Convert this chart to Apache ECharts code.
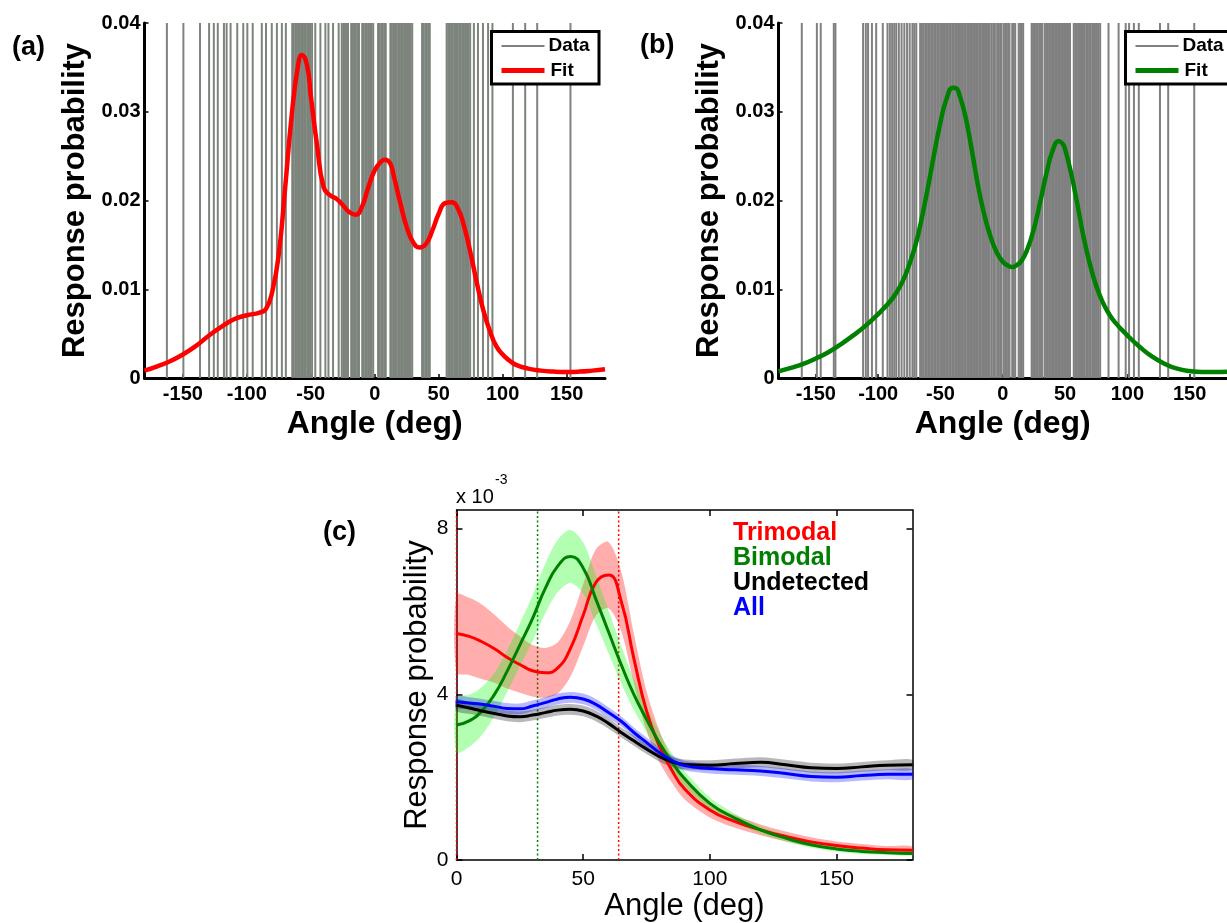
<!DOCTYPE html>
<html>
<head>
<meta charset="utf-8">
<title>Response probability</title>
<script src="https://cdn.jsdelivr.net/npm/echarts@6.0.0/dist/echarts.min.js"></script>
<style>
  html, body { margin: 0; padding: 0; background: #fff; }
  #chart { width: 1227px; height: 923px; }
</style>
</head>
<body>
<div id="chart"></div>
<script>
// panel (a): single responses (deg) and trimodal fit
const dataA = [-162.5, -149.6, -136.6, -129.5, -125.8, -122.7, -117.9, -115.8, -112.7, -107.5, -102.8, -99.6, -95.4,
  -88.3, -85.0, -80.5, -76.5, -72.6, -69.5,
  -64.5, -63.4, -62.1, -61.0, -59.9, -58.6, -57.5, -56.3, -55.2, -54.1, -52.8, -51.7, -50.6,
  -49.0, -46.5, -42.5, -38.6, -36.2, -32.6,
  -28.2, -25.8, -24.6, -23.3, -22.1, -20.9, -18.4, -17.2, -16.1, -14.8, -13.5, -12.3, -9.8, -8.7, -7.4, -6.2, -5.0, -3.7, -2.5, -1.2,
  2.6, 3.8, 5.1, 6.2, 7.4, 8.6, 12.2, 13.4, 14.7, 15.8, 17.0, 18.3, 19.5, 20.6, 21.9, 23.1, 24.4, 25.6, 26.8, 28.0, 29.3,
  37.0, 38.2, 39.5, 40.6, 41.8, 43.0,
  56.2, 57.4, 58.7, 59.8, 61.0, 62.3, 63.5, 64.7, 66.0, 67.2, 68.4, 69.7, 70.9, 72.1, 73.3, 74.6,
  77.5, 80.7, 84.6, 88.6, 92.0, 108.0, 117.6, 127.0, 153.0]
const angleA = [-180, -170, -160, -150, -140, -130, -120, -110, -100, -90, -85, -80, -75, -70, -65, -60, -57, -53, -50,
  -45, -40, -35, -30, -25, -20, -15, -10, -5, 0, 5, 8, 12, 15, 20, 25, 30, 35, 40, 45, 50, 55, 60, 65, 70, 75,
  80, 85, 90, 95, 100, 105, 110, 120, 130, 140, 150, 160, 170, 180]
const fitA = [0.00083, 0.00132, 0.00189, 0.00265, 0.00359, 0.00473, 0.00575, 0.00662, 0.00707, 0.00737, 0.0078, 0.0098, 0.0140,
  0.0215, 0.0295, 0.0352, 0.0364, 0.0353, 0.0318, 0.0261, 0.0215, 0.0206, 0.0202, 0.0195, 0.0187, 0.0184, 0.0193,
  0.0215, 0.0234, 0.0244, 0.0246, 0.0242, 0.0227, 0.0197, 0.0170, 0.0153, 0.0147, 0.0151, 0.0166, 0.0185, 0.0197,
  0.0198, 0.0191, 0.0170, 0.0140, 0.0106, 0.00756, 0.00529, 0.00359, 0.00265, 0.0020, 0.00151, 0.00106, 0.00083,
  0.00072, 0.00068, 0.00072, 0.00083, 0.00098]

// panel (b): single responses (deg) and bimodal fit
const dataB = [-161.3, -149.2, -146.1, -135.6, -134.3, -112.1, -109.9, -108.1, -105.0, -101.6, -96.3,
  -92.5, -90.6, -88.8, -87.1, -85.5, -83.4, -81.2, -79.0, -76.8, -74.7, -72.5, -71.0, -69.4, -66.3, -64.9, -63.6, -62.2, -61.0,
  -59.7, -58.6, -57.3, -56.2, -54.9, -53.8, -52.5, -51.4, -50.1, -48.9, -47.8, -46.5, -45.3, -44.2, -42.9, -41.8, -40.5,
  -39.4, -38.1, -36.9, -35.8, -34.5, -33.4, -32.1, -30.9, -29.8, -28.5, -27.3, -26.2, -24.9, -23.8, -22.5, -21.4, -20.1,
  -18.9, -17.8, -16.5, -15.3, -14.2, -12.9, -11.8, -10.5, -9.0, -7.6, -6.3,
  -4.5, -3.2, -2.0, -1.0, 0.8, 2.0, 3.2, 4.4, 5.4, 7.6, 8.8, 10.0, 12.8, 14.0, 15.2, 16.4,
  23.2, 24.4, 25.6, 26.8, 28.0, 29.3, 30.5, 31.6,
  33.6, 34.8, 36.0, 37.2, 38.4, 39.6, 40.8, 42.0, 43.2, 44.4, 45.6, 46.8, 48.0, 49.2, 50.4, 51.6, 52.8, 54.0,
  57.0, 58.2, 59.4, 60.6, 62.0, 63.2, 64.4, 65.6, 67.0, 68.2, 69.4, 70.6, 72.0, 73.2, 74.4, 75.6, 76.8, 78.2,
  84.9, 93.0, 98.7, 101.4, 105.3, 109.2, 126.2, 132.8, 153.7]
const angleB = [-180, -170, -160, -150, -140, -130, -120, -110, -100, -90, -85, -80, -75, -70, -65, -60, -55, -50, -45,
  -40, -37, -35, -30, -25, -20, -15, -10, -5, 0, 5, 8, 10, 15, 20, 25, 30, 35, 40, 45, 48, 50, 55, 60, 65, 70, 75,
  80, 85, 90, 100, 110, 120, 130, 140, 150, 160, 170, 180]
const fitB = [0.00075, 0.00115, 0.0016, 0.0022, 0.0029, 0.0038, 0.0048, 0.0059, 0.0072, 0.0087, 0.0097, 0.0110, 0.0128,
  0.0150, 0.0180, 0.0215, 0.0253, 0.0288, 0.0315, 0.0327, 0.0326, 0.0320, 0.0295, 0.0258, 0.0218, 0.0185, 0.0160,
  0.0142, 0.0131, 0.0126, 0.0125, 0.0126, 0.0132, 0.0146, 0.0168, 0.0198, 0.0230, 0.0256, 0.0267, 0.0264, 0.0258,
  0.0230, 0.0195, 0.0158, 0.0128, 0.0104, 0.0086, 0.0073, 0.0063, 0.0048, 0.0035, 0.0024, 0.0016, 0.00105, 0.00078,
  0.00068, 0.00068, 0.00071]

// panel (c): mean response probability (x 10^-3) and band half-widths
const angleC = [0, 5, 10, 15, 20, 25, 30, 35, 40, 45, 50, 55, 60, 65, 70, 75, 80, 85, 90, 100, 110, 120, 130, 140, 150, 160, 170, 180]
const trimodal = [5.47, 5.40, 5.27, 5.10, 4.89, 4.72, 4.57, 4.52, 4.64, 5.11, 5.91, 6.70, 6.88, 6.25, 4.87, 3.60, 2.76, 2.17,
  1.72, 1.21, 0.93, 0.73, 0.57, 0.44, 0.35, 0.29, 0.25, 0.24]
const trimodalErr = [0.94, 0.93, 0.90, 0.82, 0.75, 0.68, 0.62, 0.60, 0.62, 0.68, 0.75, 0.80, 0.80, 0.72, 0.60, 0.48, 0.38, 0.30,
  0.25, 0.18, 0.15, 0.13, 0.12, 0.11, 0.10, 0.10, 0.09, 0.09]
const bimodal = [3.26, 3.36, 3.60, 4.00, 4.56, 5.19, 5.83, 6.55, 7.10, 7.33, 7.05, 6.30, 5.51, 4.72, 4.00, 3.40, 2.84, 2.37,
  1.97, 1.37, 1.01, 0.73, 0.53, 0.37, 0.27, 0.21, 0.18, 0.16]
const bimodalErr = [0.66, 0.63, 0.58, 0.52, 0.50, 0.52, 0.55, 0.60, 0.63, 0.64, 0.62, 0.58, 0.52, 0.45, 0.38, 0.30, 0.25, 0.20,
  0.18, 0.14, 0.11, 0.09, 0.08, 0.07, 0.06, 0.06, 0.05, 0.05]
const undetected = [3.74, 3.67, 3.60, 3.54, 3.48, 3.46, 3.50, 3.56, 3.62, 3.64, 3.60, 3.48, 3.30, 3.08, 2.88, 2.68, 2.50, 2.37,
  2.31, 2.29, 2.33, 2.36, 2.30, 2.23, 2.21, 2.25, 2.29, 2.30]
const undetectedErr = [0.14, 0.14, 0.13, 0.13, 0.13, 0.13, 0.13, 0.13, 0.13, 0.13, 0.13, 0.13, 0.13, 0.12, 0.12, 0.12, 0.12, 0.12,
  0.12, 0.12, 0.12, 0.12, 0.12, 0.12, 0.12, 0.12, 0.12, 0.12]
const all = [3.82, 3.79, 3.76, 3.71, 3.66, 3.65, 3.72, 3.80, 3.89, 3.93, 3.89, 3.76, 3.56, 3.35, 3.08, 2.84, 2.60, 2.41,
  2.28, 2.21, 2.18, 2.15, 2.09, 2.02, 2.00, 2.04, 2.07, 2.07]
const allErr = [0.14, 0.14, 0.13, 0.13, 0.13, 0.13, 0.13, 0.13, 0.13, 0.13, 0.13, 0.13, 0.13, 0.12, 0.12, 0.12, 0.12, 0.12,
  0.12, 0.12, 0.12, 0.12, 0.12, 0.12, 0.12, 0.12, 0.12, 0.12]
// mean preferred angles (dotted markers)
const trimodalMarks = [0, 64]
const bimodalMarks = [32]

const ticksAB = [-150, -100, -50, 0, 50, 100, 150]
const ticksCx = [0, 50, 100, 150]
const ticksCy = [0, 4, 8]

const FONT = '"Liberation Sans", Arial, Helvetica, sans-serif'

function pairs (xs, ys) {
  return xs.map((x, i) => [x, ys[i]])
}

// vertical line from the bottom of the axis to yTop, one per datum
function vlines (yTop, color, width, dash) {
  return function (params, api) {
    const x = api.value(0)
    const p1 = api.coord([x, 0])
    const p2 = api.coord([x, yTop])
    return {
      type: 'line',
      shape: { x1: p1[0], y1: p1[1], x2: p2[0], y2: p2[1] },
      style: { stroke: color, lineWidth: width, lineDash: dash || null }
    }
  }
}

// one closed polygon between the lower and upper edge of the band
function bandRender (color) {
  return function (params, api) {
    if (params.dataIndexInside !== 0) return
    const up = []
    const lo = []
    for (let i = 0; i < params.dataInsideLength; i++) {
      up.push(api.coord([api.value(0, i), api.value(2, i)]))
      lo.push(api.coord([api.value(0, i), api.value(1, i)]))
    }
    return {
      type: 'polygon',
      shape: { points: up.concat(lo.reverse()), smooth: 0.3 },
      style: { fill: color }
    }
  }
}

function band (name, center, err, color) {
  return {
    name: name + ' band',
    type: 'custom',
    xAxisIndex: 2,
    yAxisIndex: 2,
    z: 2,
    encode: { x: 0, y: [1, 2] },
    renderItem: bandRender(color),
    data: angleC.map((x, i) => [x, center[i] - err[i], center[i] + err[i]])
  }
}

function meanLine (name, center, color) {
  return {
    name: name,
    type: 'line',
    xAxisIndex: 2,
    yAxisIndex: 2,
    smooth: true,
    symbol: 'none',
    lineStyle: { color: color, width: 3 },
    z: 3,
    data: pairs(angleC, center)
  }
}

function abX (gridNo) {
  return {
    gridIndex: gridNo,
    type: 'value',
    min: -180,
    max: 180,
    name: 'Angle (deg)',
    nameLocation: 'middle',
    nameGap: 30,
    nameTextStyle: { fontFamily: FONT, fontSize: 32, fontWeight: 'bold', color: '#000' },
    axisLine: { onZero: false, lineStyle: { color: '#000', width: 3 } },
    axisTick: { inside: true, length: 4, customValues: ticksAB, lineStyle: { color: '#000', width: 1.5 } },
    axisLabel: { customValues: ticksAB, margin: 6, fontFamily: FONT, fontSize: 20, fontWeight: 'bold', color: '#000' },
    splitLine: { show: false }
  }
}

function abY (gridNo) {
  return {
    gridIndex: gridNo,
    type: 'value',
    min: 0,
    max: 0.04,
    interval: 0.01,
    name: 'Response probability',
    nameLocation: 'middle',
    nameGap: 54,
    nameTextStyle: { fontFamily: FONT, fontSize: 31, fontWeight: 'bold', color: '#000' },
    axisLine: { onZero: false, lineStyle: { color: '#000', width: 3 } },
    axisTick: { inside: true, length: 4, lineStyle: { color: '#000', width: 1.5 } },
    axisLabel: { margin: 4, fontFamily: FONT, fontSize: 20, fontWeight: 'bold', color: '#000' },
    splitLine: { show: false }
  }
}

function legendBox (left, fitColor) {
  return [
    { type: 'rect', z: 100, shape: { x: left, y: 31.5, width: 107.5, height: 52.5 },
      style: { fill: '#fff', stroke: '#000', lineWidth: 3 } },
    { type: 'line', z: 101, shape: { x1: left + 10, y1: 46, x2: left + 53, y2: 46 },
      style: { stroke: '#000', lineWidth: 1.2 } },
    { type: 'line', z: 101, shape: { x1: left + 10, y1: 70.5, x2: left + 53, y2: 70.5 },
      style: { stroke: fitColor, lineWidth: 5 } },
    { type: 'text', z: 101, x: left + 57, y: 46,
      style: { text: 'Data', fill: '#000', font: 'bold 19px ' + FONT, textVerticalAlign: 'middle' } },
    { type: 'text', z: 101, x: left + 59, y: 70.5,
      style: { text: 'Fit', fill: '#000', font: 'bold 19px ' + FONT, textVerticalAlign: 'middle' } }
  ]
}

function label (text, x, y, font, color) {
  return { type: 'text', z: 100, x: x, y: y,
    style: { text: text, fill: color || '#000', font: font, textVerticalAlign: 'middle' } }
}

const chart = echarts.init(document.getElementById('chart'), null, { renderer: 'canvas' })
chart.setOption({
  animation: false,
  backgroundColor: '#fff',
  grid: [
    { left: 144.5, top: 23, width: 460.5, height: 355 },
    { left: 778.5, top: 23, width: 460.5, height: 355 },
    { left: 456.5, top: 510, width: 456, height: 354 }
  ],
  xAxis: [
    abX(0),
    abX(1),
    {
      gridIndex: 2,
      type: 'value',
      min: 0,
      max: 180,
      name: 'Angle (deg)',
      nameLocation: 'middle',
      nameGap: 30,
      nameTextStyle: { fontFamily: FONT, fontSize: 31, color: '#000' },
      axisLine: { onZero: false, lineStyle: { color: '#000', width: 1.5 } },
      axisTick: { inside: true, length: 6, customValues: ticksCx, lineStyle: { color: '#000', width: 1.5 } },
      axisLabel: { customValues: ticksCx, margin: 9, fontFamily: FONT, fontSize: 21, color: '#000' },
      splitLine: { show: false }
    },
    {
      gridIndex: 2,
      type: 'value',
      position: 'top',
      min: 0,
      max: 180,
      axisLine: { onZero: false, lineStyle: { color: '#000', width: 1.5 } },
      axisTick: { inside: true, length: 6, customValues: ticksCx, lineStyle: { color: '#000', width: 1.5 } },
      axisLabel: { show: false },
      splitLine: { show: false }
    }
  ],
  yAxis: [
    abY(0),
    abY(1),
    {
      gridIndex: 2,
      type: 'value',
      min: 0,
      max: 8.45,
      name: 'Response probability',
      nameLocation: 'middle',
      nameGap: 23,
      nameTextStyle: { fontFamily: FONT, fontSize: 31, color: '#000' },
      axisLine: { onZero: false, lineStyle: { color: '#000', width: 1.5 } },
      axisTick: { inside: true, length: 6, customValues: ticksCy, lineStyle: { color: '#000', width: 1.5 } },
      axisLabel: { customValues: ticksCy, margin: 8, fontFamily: FONT, fontSize: 21, color: '#000' },
      splitLine: { show: false }
    },
    {
      gridIndex: 2,
      type: 'value',
      position: 'right',
      min: 0,
      max: 8.45,
      axisLine: { onZero: false, lineStyle: { color: '#000', width: 1.5 } },
      axisTick: { inside: true, length: 6, customValues: ticksCy, lineStyle: { color: '#000', width: 1.5 } },
      axisLabel: { show: false },
      splitLine: { show: false }
    }
  ],
  series: [
    {
      name: 'Data',
      type: 'custom',
      xAxisIndex: 0,
      yAxisIndex: 0,
      z: 1,
      renderItem: vlines(0.04, '#7c847c', 2),
      data: dataA.map(v => [v, 0])
    },
    {
      name: 'Fit',
      type: 'line',
      xAxisIndex: 0,
      yAxisIndex: 0,
      smooth: true,
      symbol: 'none',
      lineStyle: { color: '#ff0000', width: 4.5 },
      z: 3,
      data: pairs(angleA, fitA)
    },
    {
      name: 'Data',
      type: 'custom',
      xAxisIndex: 1,
      yAxisIndex: 1,
      z: 1,
      renderItem: vlines(0.04, '#808080', 2),
      data: dataB.map(v => [v, 0])
    },
    {
      name: 'Fit',
      type: 'line',
      xAxisIndex: 1,
      yAxisIndex: 1,
      smooth: true,
      symbol: 'none',
      lineStyle: { color: '#008000', width: 4.5 },
      z: 3,
      data: pairs(angleB, fitB)
    },
    {
      name: 'Trimodal mean',
      type: 'custom',
      xAxisIndex: 2,
      yAxisIndex: 2,
      z: 1,
      renderItem: vlines(8.45, '#ff0000', 1.5, [2, 2.5]),
      data: trimodalMarks.map(v => [v, 0])
    },
    {
      name: 'Bimodal mean',
      type: 'custom',
      xAxisIndex: 2,
      yAxisIndex: 2,
      z: 1,
      renderItem: vlines(8.45, '#008000', 1.5, [2, 2.5]),
      data: bimodalMarks.map(v => [v, 0])
    },
    band('Trimodal', trimodal, trimodalErr, 'rgba(255,0,0,0.32)'),
    band('Bimodal', bimodal, bimodalErr, 'rgba(0,255,0,0.3)'),
    band('Undetected', undetected, undetectedErr, 'rgba(0,0,0,0.28)'),
    band('All', all, allErr, 'rgba(0,0,255,0.28)'),
    meanLine('Trimodal', trimodal, '#ff0000'),
    meanLine('Bimodal', bimodal, '#008000'),
    meanLine('Undetected', undetected, '#000000'),
    meanLine('All', all, '#0000ff')
  ],
  graphic: [
    ...legendBox(491.5, '#ff0000'),
    ...legendBox(1125.5, '#008000'),
    label('(a)', 12, 48, 'bold 27px ' + FONT),
    label('(b)', 640, 46, 'bold 27px ' + FONT),
    label('(c)', 323, 533, 'bold 27px ' + FONT),
    label('x 10', 456, 497, '20px ' + FONT),
    label('-3', 495, 480, '14px ' + FONT),
    label('Trimodal', 733, 533, 'bold 25px ' + FONT, '#ff0000'),
    label('Bimodal', 733, 558, 'bold 25px ' + FONT, '#008000'),
    label('Undetected', 733, 583, 'bold 25px ' + FONT, '#000000'),
    label('All', 733, 608, 'bold 25px ' + FONT, '#0000ff')
  ]
})
</script>
</body>
</html>
